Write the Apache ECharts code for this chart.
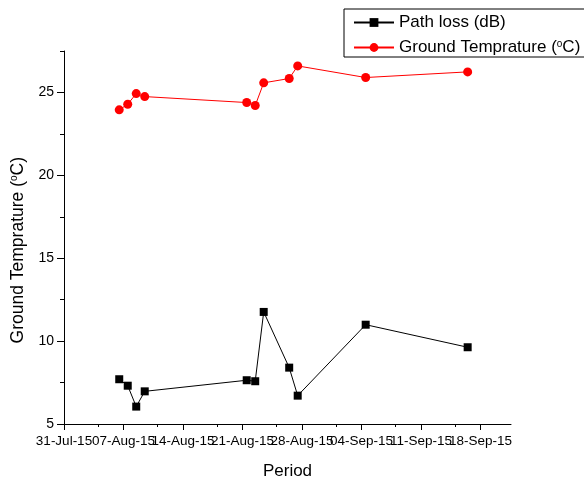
<!DOCTYPE html>
<html>
<head>
<meta charset="utf-8">
<script src="https://cdn.jsdelivr.net/npm/echarts@6/dist/echarts.min.js"></script>
<style>
html,body{margin:0;padding:0;background:#fff;}
#c{width:584px;height:479px;}
</style>
</head>
<body>
<div id="c"></div>
<script>
// ---- data ----
var dates = ['2015-08-06','2015-08-07','2015-08-08','2015-08-09','2015-08-21','2015-08-22','2015-08-23','2015-08-26','2015-08-27','2015-09-04','2015-09-16'];
var pathLoss = [7.70, 7.31, 6.05, 6.97, 7.64, 7.58, 11.76, 8.40, 6.71, 10.99, 9.63];
var groundTemp = [23.95, 24.29, 24.93, 24.75, 24.39, 24.21, 25.58, 25.84, 26.60, 25.90, 26.24];
var xTickDates = ['2015-07-31','2015-08-07','2015-08-14','2015-08-21','2015-08-28','2015-09-04','2015-09-11','2015-09-18'];
var xMinorDates = ['2015-08-04','2015-08-11','2015-08-18','2015-08-25','2015-09-01','2015-09-08','2015-09-15'];
var yTicks = [5, 10, 15, 20, 25];
var yMinorTicks = [7.5, 12.5, 17.5, 22.5, 27.5];
var yMin = 5, yMax = 27.5;
var xStart = '2015-07-31', xEndDays = 52.6;

// ---- helpers ----
var DAY = 86400000;
function ts(s){ var p = s.split('-'); return Date.UTC(+p[0], +p[1]-1, +p[2]); }
var MON = ['Jan','Feb','Mar','Apr','May','Jun','Jul','Aug','Sep','Oct','Nov','Dec'];
function fmt(v){
  var d = new Date(v);
  var dd = d.getUTCDate(); dd = (dd < 10 ? '0' : '') + dd;
  return dd + '-' + MON[d.getUTCMonth()] + '-' + String(d.getUTCFullYear()).slice(2);
}
var xMin = ts(xStart), xMax = xMin + xEndDays * DAY;
var half = DAY / 2;
var plData = dates.map(function(d, i){ return [ts(d) + half, pathLoss[i]]; });
var gtData = dates.map(function(d, i){ return [ts(d) + half, groundTemp[i]]; });
var xTicks = xTickDates.map(ts);
var xLabelsA = xTicks.filter(function(v, i){ return i % 2 === 0; });
var xLabelsB = xTicks.filter(function(v, i){ return i % 2 === 1; });
var xMinor = xMinorDates.map(ts);

var FONT = 'Liberation Sans, Arial, sans-serif';
var chart = echarts.init(document.getElementById('c'), null, {renderer: 'canvas'});

var baseX = {
  type: 'value', min: xMin, max: xMax, position: 'bottom',
  splitLine: {show: false}
};
var baseY = {
  type: 'value', min: yMin, max: yMax, position: 'left',
  splitLine: {show: false}
};
var xLabelStyle = {show: true, formatter: fmt, margin: 10,
  showMinLabel: true, showMaxLabel: true, hideOverlap: false,
  fontFamily: FONT, fontSize: 13.5, color: '#000'};

chart.setOption({
  animation: false,
  backgroundColor: '#fff',
  grid: {left: 64, top: 51, width: 447, height: 373, containLabel: false, outerBoundsMode: 'none'},
  legend: {
    orient: 'vertical', left: 344, top: 9,
    itemWidth: 40, itemHeight: 11, itemGap: 8,
    padding: [5, 30, 1, 9],
    borderColor: '#000', borderWidth: 1,
    data: ['Path loss (dB)', 'Ground Temprature (oC)'],
    formatter: function(n){
      return n === 'Ground Temprature (oC)' ? 'Ground Temprature ({s|o}C)' : n;
    },
    textStyle: {
      fontFamily: FONT, fontSize: 17, color: '#000',
      rich: {s: {fontFamily: FONT, fontSize: 10, color: '#000', padding: [0, 0, 7, 0]}}
    }
  },
  xAxis: [
    Object.assign({}, baseX, {
      axisLine: {show: true, lineStyle: {color: '#000', width: 1}},
      axisTick: {show: true, length: 6, lineStyle: {color: '#000'}, customValues: xTicks},
      axisLabel: Object.assign({customValues: xLabelsA}, xLabelStyle),
      name: 'Period', nameLocation: 'middle', nameGap: 39,
      nameTextStyle: {fontFamily: FONT, fontSize: 17, color: '#000'}
    }),
    Object.assign({}, baseX, {
      axisLine: {show: false},
      axisTick: {show: true, length: 3, lineStyle: {color: '#000'}, customValues: xMinor},
      axisLabel: {show: false}
    }),
    Object.assign({}, baseX, {
      axisLine: {show: false},
      axisTick: {show: false},
      axisLabel: Object.assign({customValues: xLabelsB}, xLabelStyle)
    })
  ],
  yAxis: [
    Object.assign({}, baseY, {
      axisLine: {show: true, lineStyle: {color: '#000', width: 1}},
      axisTick: {show: true, length: 7, lineStyle: {color: '#000'}, customValues: yTicks},
      axisLabel: {show: true, customValues: yTicks, margin: 10,
        showMinLabel: true, showMaxLabel: true,
        fontFamily: FONT, fontSize: 14, color: '#000'}
    }),
    Object.assign({}, baseY, {
      axisLine: {show: false},
      axisTick: {show: true, length: 4, lineStyle: {color: '#000'}, customValues: yMinorTicks},
      axisLabel: {show: false}
    })
  ],
  graphic: [{
    type: 'text', left: 9, top: 157, rotation: Math.PI / 2,
    style: {
      text: 'Ground Temprature ({s|o}C)',
      fontFamily: FONT, fontSize: 17.5, fill: '#000',
      rich: {s: {fontFamily: FONT, fontSize: 10, fill: '#000', padding: [0, 0, 7, 0]}}
    }
  }],
  series: [
    {
      name: 'Path loss (dB)', type: 'line', xAxisIndex: 0, yAxisIndex: 0,
      data: plData, symbol: 'rect', symbolSize: 8, showAllSymbol: true,
      lineStyle: {color: '#000', width: 1}, itemStyle: {color: '#000'},
      emphasis: {disabled: true}
    },
    {
      name: 'Ground Temprature (oC)', type: 'line', xAxisIndex: 0, yAxisIndex: 0,
      data: gtData, symbol: 'circle', symbolSize: 9, showAllSymbol: true,
      lineStyle: {color: '#f00', width: 1}, itemStyle: {color: '#f00'},
      emphasis: {disabled: true}
    }
  ]
});
</script>
</body>
</html>
